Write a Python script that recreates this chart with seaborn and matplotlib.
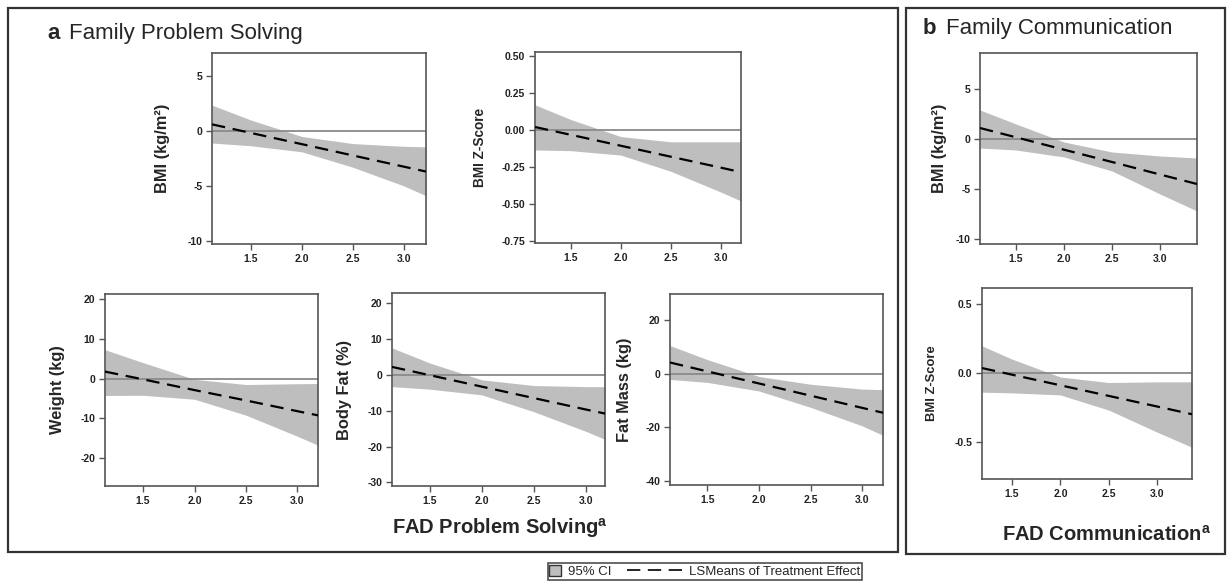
import matplotlib
matplotlib.use("Agg")
import matplotlib.pyplot as plt
from matplotlib.patches import Rectangle, Patch
from matplotlib.lines import Line2D
from matplotlib.legend_handler import HandlerLine2D, HandlerPatch
from matplotlib.ticker import FixedLocator, FormatStrFormatter
import seaborn as sns

sns.set_style("white")
plt.rcParams["font.family"] = ["Liberation Sans", "DejaVu Sans"]
plt.rcParams["mathtext.fontset"] = "custom"
plt.rcParams["mathtext.rm"] = "Liberation Sans"
plt.rcParams["mathtext.bf"] = "Liberation Sans:bold"

# FAD score knots (left edge, ticks, right edge) and values
x_a_bmi = [1.12, 1.5, 2.0, 2.5, 3.0, 3.22]
mean_a_bmi = [0.6, -0.18, -1.2, -2.23, -3.25, -3.7]
upper_a_bmi = [2.35, 1.0, -0.5, -1.15, -1.4, -1.45]
lower_a_bmi = [-1.1, -1.35, -1.9, -3.3, -5.0, -5.9]

x_a_z = [1.14, 1.5, 2.0, 2.5, 3.0, 3.2]
mean_a_z = [0.02, -0.033, -0.107, -0.181, -0.255, -0.285]
upper_a_z = [0.17, 0.07, -0.045, -0.08, -0.08, -0.08]
lower_a_z = [-0.135, -0.14, -0.17, -0.28, -0.42, -0.48]

x_weight = [1.13, 1.5, 2.0, 2.5, 3.0, 3.2]
mean_weight = [1.75, -0.2, -2.9, -5.5, -8.2, -9.25]
upper_weight = [7.25, 4.0, -0.2, -1.5, -1.3, -1.25]
lower_weight = [-4.25, -4.2, -5.2, -9.2, -14.5, -16.75]

x_bodyfat = [1.14, 1.5, 2.0, 2.5, 3.0, 3.18]
mean_bodyfat = [2.2, -0.1, -3.3, -6.5, -9.7, -10.8]
upper_bodyfat = [7.5, 3.3, -1.4, -3.0, -3.3, -3.3]
lower_bodyfat = [-3.3, -4.0, -5.6, -10.3, -15.8, -18.0]

x_fatmass = [1.14, 1.5, 2.0, 2.5, 3.0, 3.2]
mean_fatmass = [4.1, 0.8, -3.7, -8.25, -12.8, -14.6]
upper_fatmass = [10.4, 5.2, -1.1, -4.0, -5.8, -6.0]
lower_fatmass = [-2.2, -3.3, -6.5, -12.6, -19.5, -23.0]

x_b_bmi = [1.125, 1.5, 2.0, 2.5, 3.0, 3.385]
mean_b_bmi = [1.1, 0.17, -1.07, -2.3, -3.55, -4.5]
upper_b_bmi = [2.9, 1.5, -0.3, -1.3, -1.7, -1.9]
lower_b_bmi = [-0.9, -1.1, -1.8, -3.2, -5.5, -7.2]

x_b_z = [1.19, 1.5, 2.0, 2.5, 3.0, 3.36]
mean_b_z = [0.035, -0.013, -0.09, -0.167, -0.244, -0.3]
upper_b_z = [0.196, 0.1, -0.03, -0.07, -0.065, -0.065]
lower_b_z = [-0.14, -0.145, -0.16, -0.27, -0.43, -0.54]

x_ticks = [1.5, 2.0, 2.5, 3.0]

W, H = 1227, 582
fig = plt.figure(figsize=(W / 100, H / 100), dpi=100)

BAND = "#bebebe"
SPINE = "#555555"


def px_axes(left, right, top, bottom):
    return fig.add_axes([left / W, 1 - bottom / H, (right - left) / W, (bottom - top) / H])


def panel(box, x, mean, lo, hi, ylim, yticks, yfmt, ylabel, ylab_px, ylab_size):
    left, right, top, bottom = box
    ax = px_axes(left, right, top, bottom)
    ax.fill_between(x, lo, hi, color=BAND, lw=0, zorder=1)
    ax.axhline(0, color="#8a8a8a", lw=1.3, zorder=2)
    sns.lineplot(x=x, y=mean, ax=ax, color="black", lw=1.6,
                 linestyle=(0, (6, 3.5)), zorder=3)
    ax.set_xlim(x[0], x[-1])
    ax.set_ylim(*ylim)
    ax.xaxis.set_major_locator(FixedLocator(x_ticks))
    ax.xaxis.set_major_formatter(FormatStrFormatter("%.1f"))
    ax.yaxis.set_major_locator(FixedLocator(yticks))
    ax.yaxis.set_major_formatter(FormatStrFormatter(yfmt))
    ax.tick_params(axis="both", direction="out", length=4, width=1,
                   color=SPINE, labelsize=7.5, pad=3, bottom=True, left=True)
    for lab in ax.get_xticklabels() + ax.get_yticklabels():
        lab.set_fontweight("bold")
        lab.set_color("#222222")
    for s in ax.spines.values():
        s.set_color(SPINE)
        s.set_linewidth(1.2)
    ax.set_xlabel("")
    ax.set_ylabel(ylabel, fontsize=ylab_size, fontweight="bold")
    ax.yaxis.set_label_coords((ylab_px - left) / (right - left), 0.5)
    return ax


panel((212, 426, 53, 244), x_a_bmi, mean_a_bmi, lower_a_bmi, upper_a_bmi,
      (-10.3, 7.1), [-10, -5, 0, 5], "%d", "BMI (kg/m²)", 170, 11.8)
panel((535, 741, 52, 243), x_a_z, mean_a_z, lower_a_z, upper_a_z,
      (-0.764, 0.527), [-0.75, -0.5, -0.25, 0, 0.25, 0.5], "%.2f", "BMI Z-Score", 487, 9.8)
panel((105, 318, 294, 486), x_weight, mean_weight, lower_weight, upper_weight,
      (-27, 21.25), [-20, -10, 0, 10, 20], "%d", "Weight (kg)", 65, 11.8)
panel((392, 605, 293, 486), x_bodyfat, mean_bodyfat, lower_bodyfat, upper_bodyfat,
      (-31, 22.8), [-30, -20, -10, 0, 10, 20], "%d", "Body Fat (%)", 352, 11.8)
panel((670, 883, 294, 485), x_fatmass, mean_fatmass, lower_fatmass, upper_fatmass,
      (-41.5, 29.6), [-40, -20, 0, 20], "%d", "Fat Mass (kg)", 632, 11.8)
panel((980, 1197, 53, 244), x_b_bmi, mean_b_bmi, lower_b_bmi, upper_b_bmi,
      (-10.5, 8.6), [-10, -5, 0, 5], "%d", "BMI (kg/m²)", 947, 11.8)
panel((982, 1192, 288, 479), x_b_z, mean_b_z, lower_b_z, upper_b_z,
      (-0.77, 0.616), [-0.5, 0, 0.5], "%.1f", "BMI Z-Score", 938, 9.4)

# panel frames
for (x0, x1, y0, y1) in [(8, 898, 8, 552), (906, 1225, 8, 554)]:
    fig.patches.append(Rectangle((x0 / W, 1 - y1 / H), (x1 - x0) / W, (y1 - y0) / H,
                                 transform=fig.transFigure, fill=False,
                                 ec="#333333", lw=1.6))

# panel titles
for letter, name, xpx, ypx in [("a", "Family Problem Solving", 47, 39),
                               ("b", "Family Communication", 923, 34)]:
    t = fig.text(xpx / W, 1 - ypx / H, letter, fontsize=16, fontweight="bold",
                 va="baseline", ha="left")
    fig.text(0, 0, "")
    plt.annotate(name, xy=(1, 0), xycoords=t, xytext=(7, 0),
                 textcoords="offset points", fontsize=16, va="bottom", ha="left",
                 annotation_clip=False)

fig.text(500 / W, 1 - 528 / H, r"FAD Problem Solving$^{\mathbf{a}}$", fontsize=14.5,
         fontweight="bold", ha="center", va="center")
fig.text(1107 / W, 1 - 535 / H, r"FAD Communication$^{\mathbf{a}}$", fontsize=14.5,
         fontweight="bold", ha="center", va="center")


# legend: small square for the CI, long dash that reaches into the column gap
class SquarePatch(HandlerPatch):
    def create_artists(self, legend, orig_handle, xdescent, ydescent, width,
                       height, fontsize, trans):
        s = height * 1.05
        p = Rectangle((-xdescent, -ydescent + (height - s) / 2), s, s,
                      facecolor=BAND, edgecolor="#333333", lw=1.0, transform=trans)
        return [p]


class LongDash(HandlerLine2D):
    def create_artists(self, legend, orig_handle, xdescent, ydescent, width,
                       height, fontsize, trans):
        extra = 3.3 * fontsize
        y = height / 2 - ydescent
        ln = Line2D([-xdescent - extra, -xdescent + width], [y, y], color="black",
                    lw=1.2, linestyle=(0, (8, 4.5)), transform=trans)
        return [ln]


patch_h = Patch(facecolor=BAND, edgecolor="#333333")
line_h = Line2D([0], [0], color="black")
leg = fig.legend([patch_h, line_h], ["95% CI", "LSMeans of Treatment Effect"], ncol=2,
                 loc="center", bbox_to_anchor=(705 / W, 1 - 571.5 / H),
                 frameon=True, fontsize=9.5, handlelength=1.0, handleheight=0.9,
                 columnspacing=4.5, handletextpad=0.4, borderpad=0.12,
                 borderaxespad=0, fancybox=False,
                 handler_map={Patch: SquarePatch(), Line2D: LongDash()})
leg.get_frame().set_edgecolor("#222222")
leg.get_frame().set_linewidth(1.2)

fig.savefig("out.png", dpi=100)
